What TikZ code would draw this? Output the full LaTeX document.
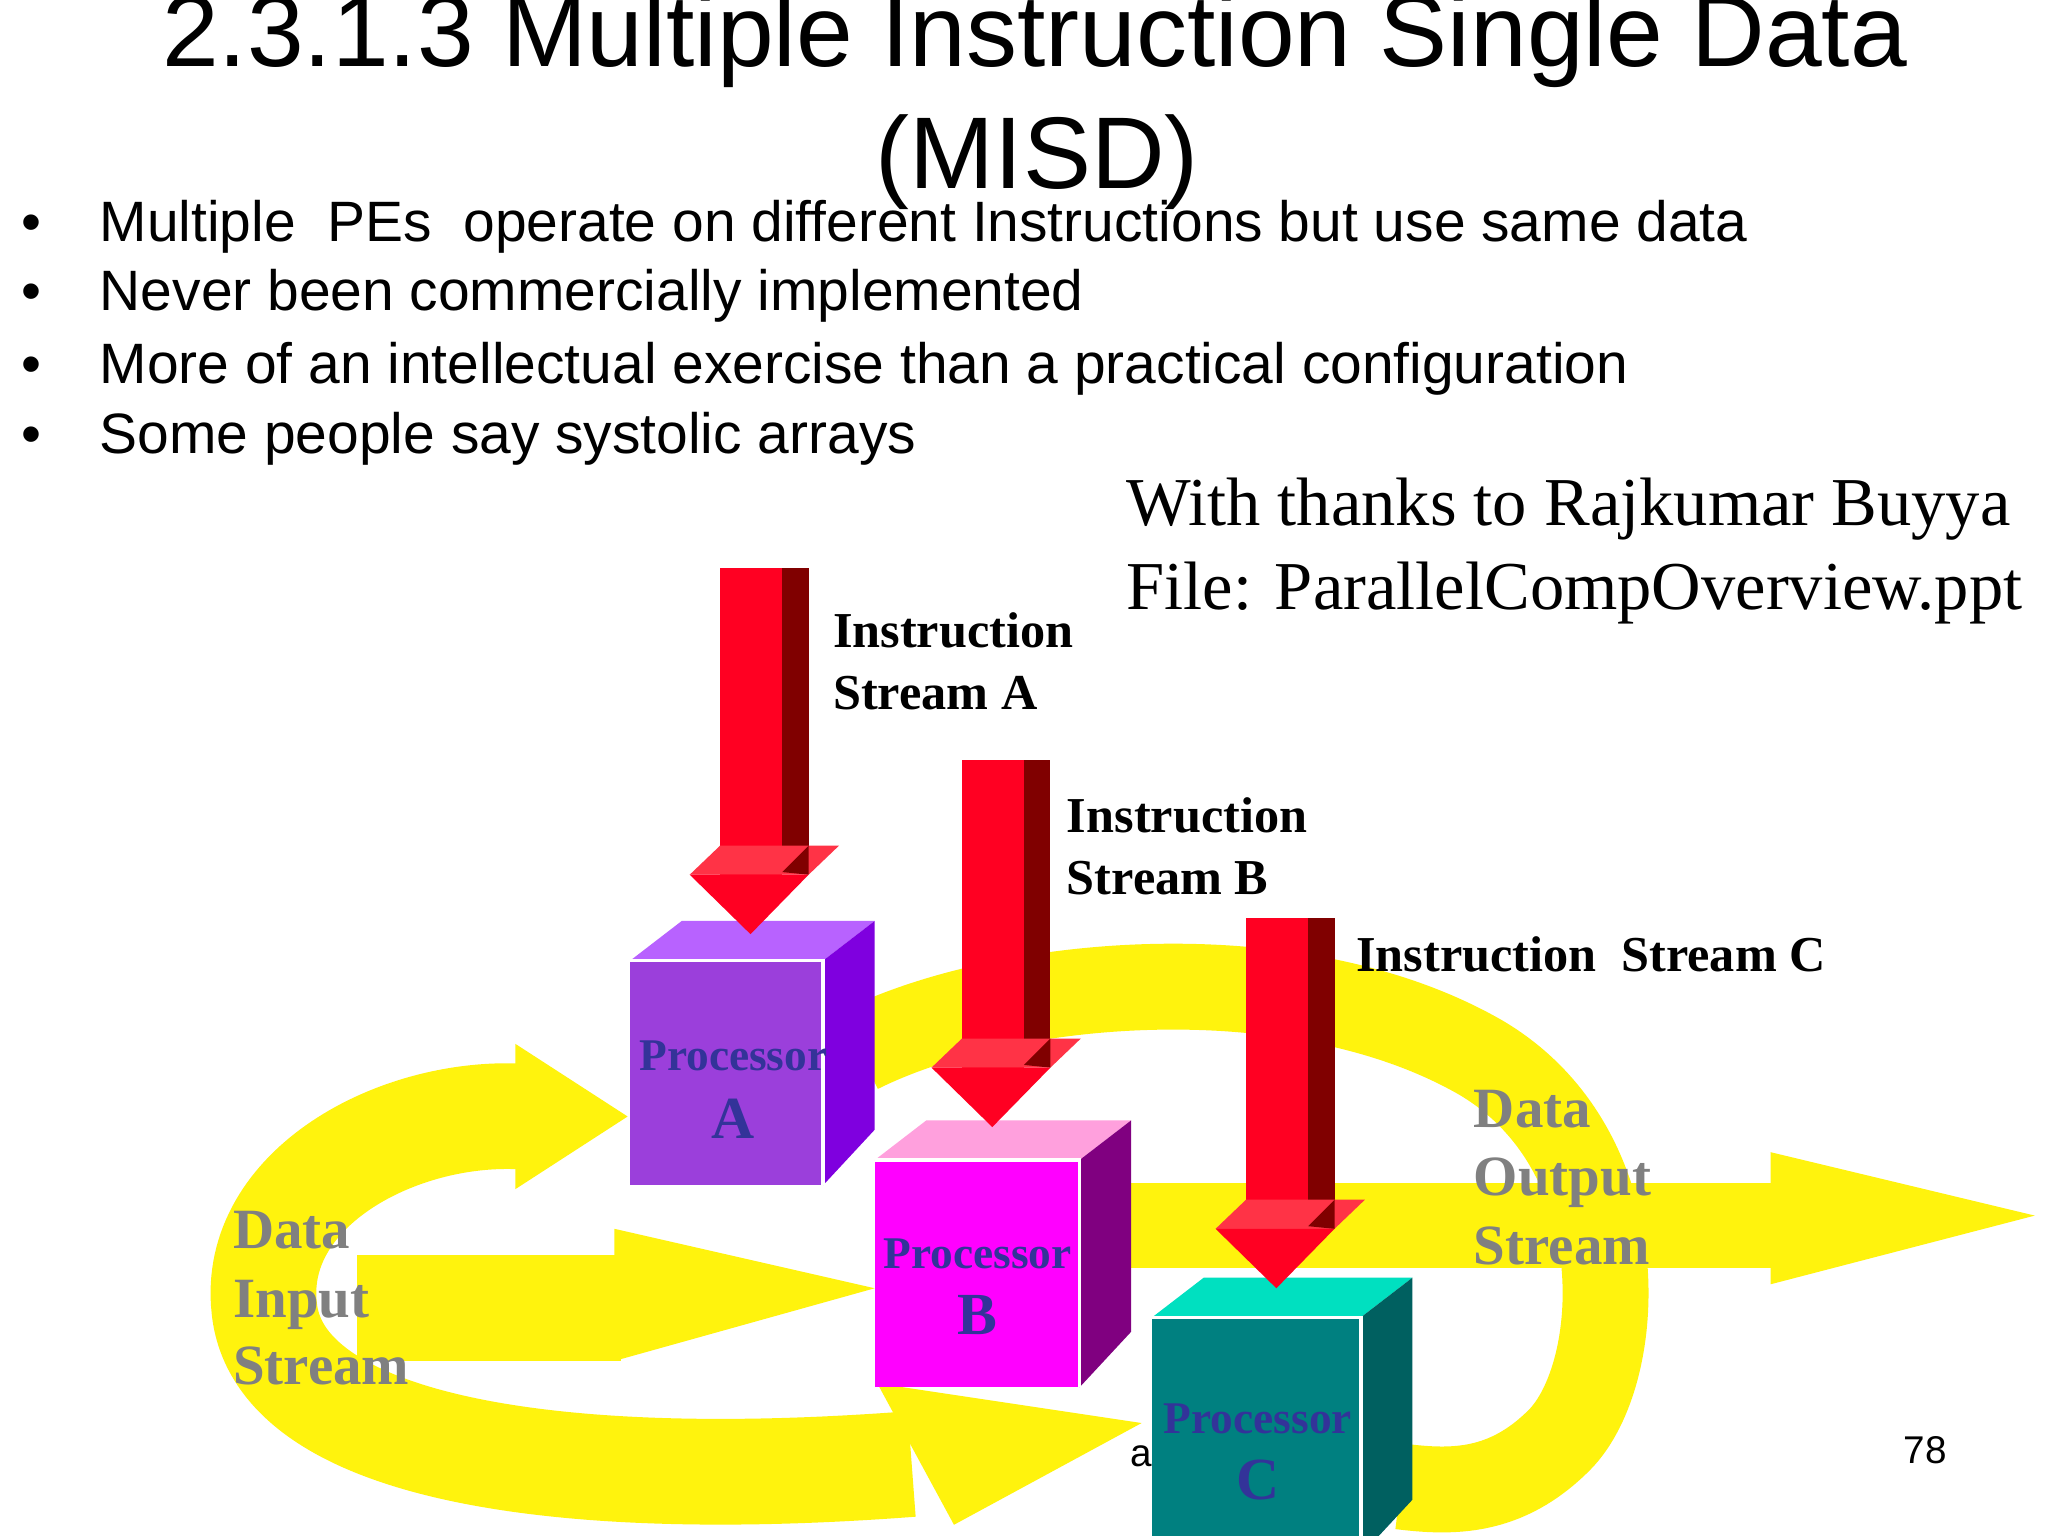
\documentclass[tikz,border=0pt]{standalone}
\usepackage{fontspec}
\setmainfont{Liberation Serif}
\newfontfamily\sans{Liberation Sans}
\begin{document}
\begin{tikzpicture}[x=0.013213cm,y=-0.013213cm,
  yel/.style={draw=none,fill=yellow!95!white},
  band/.style={line width=80*0.013213cm,color=yellow!95!white},
  lbl/.style={font=\fontsize{14.3}{16}\selectfont\bfseries,anchor=base west,inner sep=0},
  dat/.style={font=\fontsize{16.2}{20}\selectfont\bfseries,text=gray,anchor=base west,inner sep=0},
  ptxt/.style={font=\fontsize{12.9}{14}\selectfont\bfseries,text={rgb,255:red,51;green,51;blue,153},anchor=base,inner sep=0},
  pltr/.style={font=\fontsize{17}{18}\selectfont\bfseries,text={rgb,255:red,51;green,51;blue,153},anchor=base,inner sep=0},
  bul/.style={font=\sans\fontsize{16.2}{18}\selectfont,anchor=base west,inner sep=0}]
\useasboundingbox (0,0) rectangle (1550,1162.5);
\fill[white] (0,0) rectangle (1550,1162.5);
% yellow streams
\draw[band] (395,845) .. controls (300,840) and (190,900) .. (200,990) .. controls (210,1090) and (400,1130) .. (690,1108);
\fill[yel] (390,790) -- (475,845) -- (390,900) -- cycle;
\fill[yel] (664,1047) -- (864,1077) -- (722,1154) -- cycle;
\node[font=\sans\fontsize{11}{13}\selectfont,anchor=base,inner sep=0] (frag) at (864,1110) {a};
\draw[band,line width=65*0.013213cm] (650,795) .. controls (760,740) and (980,720) .. (1120,800) .. controls (1240,870) and (1230,1040) .. (1180,1090) .. controls (1140,1130) and (1100,1130) .. (1060,1125);
\fill[yel] (270,950) rectangle (470,1030);
\fill[yel] (465,930) -- (662,975) -- (465,1030) -- cycle;
\fill[yel] (850,895) rectangle (1345,960);
\fill[yel] (1340,872) -- (1540,920) -- (1340,972) -- cycle;
% processors
\newcommand\proc[7]{%
  \fill[#5] (#1,#2) rectangle (#1+#3,#2+#4);
  \fill[#6] (#1,#2) -- (#1+39,#2-30) -- (#1+#3+39,#2-30) -- (#1+#3,#2) -- cycle;
  \fill[#7] (#1+#3,#2) -- (#1+#3+39,#2-30) -- (#1+#3+39,#2+#4-42) -- (#1+#3,#2+#4) -- cycle;
  \draw[white,line width=1pt] (#1,#2) -- (#1+#3,#2) -- (#1+#3,#2+#4);}
\definecolor{pa}{HTML}{9B3FDB}\definecolor{pat}{HTML}{B862FF}\definecolor{pas}{HTML}{7F00DF}
\definecolor{pb}{HTML}{FF00FF}\definecolor{pbt}{HTML}{FFA0DD}\definecolor{pbs}{HTML}{800080}
\definecolor{pc}{HTML}{008080}\definecolor{pct}{HTML}{00E0C0}\definecolor{pcs}{HTML}{006060}
\proc{477}{727}{146}{170}{pa}{pat}{pas}
\proc{662}{878}{155}{172}{pb}{pbt}{pbs}
\proc{872}{997}{158}{180}{pc}{pct}{pcs}
\node[ptxt] (pA) at (555,810) {Processor};
\node[pltr] (lA) at (555,862) {A};
\node[ptxt] (pB) at (740,960) {Processor};
\node[pltr] (lB) at (740,1010) {B};
\node[ptxt] (pC) at (952,1085) {Processor};
\node[pltr] (lC) at (952,1135) {C};
% red arrows
\definecolor{rd}{HTML}{FF0022}\definecolor{rdk}{HTML}{800000}\definecolor{rl}{HTML}{FF3346}
\newcommand\redarrow[3]{%
  \fill[rd] (#1,#2) rectangle (#1+47,#3);
  \fill[rdk] (#1+47,#2) rectangle (#1+67,#3-2);
  \fill[rl] (#1-23,#3) -- (#1,#3-22) -- (#1+90,#3-22) -- (#1+67,#3) -- cycle;
  \fill[rdk] (#1+47,#3-2) -- (#1+67,#3-22) -- (#1+67,#3) -- cycle;
  \fill[rd] (#1-23,#3) -- (#1+67,#3) -- (#1+23,#3+45) -- cycle;}
\redarrow{545}{430}{662}
\redarrow{728}{575}{808}
\redarrow{943}{695}{930}
% labels
\node[lbl] (iA1) at (630,490) {Instruction};
\node[lbl] (iA2) at (630,537) {Stream A};
\node[lbl] (iB1) at (807,630) {Instruction};
\node[lbl] (iB2) at (807,677) {Stream B};
\node[lbl] (iC) at (1026,735) {Instruction\ \ Stream C};
\node[dat] (d1) at (176,945) {Data};
\node[dat] (d2) at (176,997) {Input};
\node[dat] (d3) at (176,1048) {Stream};
\node[dat] (o1) at (1115,853) {Data};
\node[dat] (o2) at (1115,905) {Output};
\node[dat] (o3) at (1115,957) {Stream};
% text
\node[font=\sans\fontsize{29}{30}\selectfont,anchor=base,inner sep=0] (t1) at (783,50) {2.3.1.3 Multiple Instruction Single Data};
\node[font=\sans\fontsize{29}{30}\selectfont,anchor=base,inner sep=0] (t2) at (785,143) {(MISD)};
\foreach \yy/\tt [count=\i] in {183/{Multiple\ \ PEs\ \ operate on different Instructions but use same data},235/{Never been commercially implemented},290/{More of an intellectual exercise than a practical configuration},343/{Some people say systolic arrays}}{
  \node[bul] (b\i) at (75,\yy) {\tt};
  \node[bul] (bd\i) at (16,\yy) {\textbullet};}
\node[font=\fontsize{19.5}{22}\selectfont,anchor=base west,inner sep=0] (th1) at (852,398) {With thanks to Rajkumar Buyya};
\node[font=\fontsize{19.5}{22}\selectfont,anchor=base west,inner sep=0] (th2) at (852,461) {File: ParallelCompOverview.ppt};
\node[font=\sans\fontsize{11}{13}\selectfont,anchor=base,inner sep=0] (pg) at (1457,1108) {78};
\end{tikzpicture}
\end{document}
